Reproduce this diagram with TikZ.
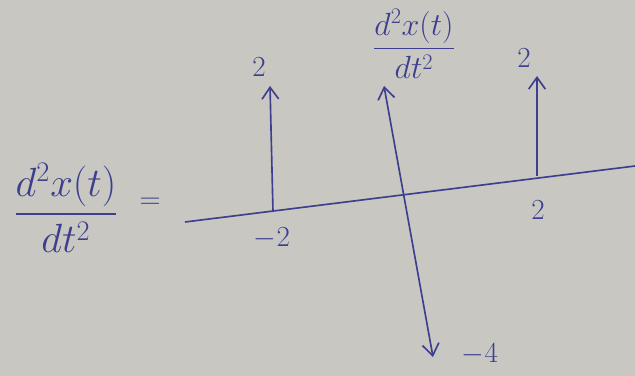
\documentclass[tikz,border=0pt]{standalone}
\usepackage{amsmath}
\usepackage{tikz}
\usetikzlibrary{arrows.meta}
\definecolor{paper}{HTML}{C8C7C2}
\definecolor{ink}{HTML}{3D3F8E}

\begin{document}
\begin{tikzpicture}[x=0.03cm, y=-0.03cm, >={Straight Barb[length=3.5mm,width=5mm]}, every node/.style={text=ink, font=\fontsize{26}{30}\selectfont}]
\fill[paper] (0,0) rectangle (635,376);
\useasboundingbox (0,0) rectangle (635,376);
\node[scale=1.4] (lhs) at (66,208) {$\dfrac{d^2x(t)}{dt^2}$};
\node (eq) at (150,203) {$=$};
\coordinate (ax0) at (185,222);
\coordinate (ax1) at (635,166);
\draw[line width=1.4pt,color=ink] (ax0)--(ax1);
\coordinate (m2) at (273,212);
\coordinate (m2top) at (270,86);
\draw[->,line width=1.4pt,color=ink] (m2)--(m2top);
\node (hm2) at (259,67) {$2$};
\node (tm2) at (272,238) {$-2$};
\coordinate (vtop) at (384,86);
\coordinate (vbot) at (433,357);
\draw[<->,line width=1.4pt,color=ink] (vtop)--(vbot);
\node[scale=1.1] (vlab) at (414,44) {$\dfrac{d^2x(t)}{dt^2}$};
\node (h0) at (480,354) {$-4$};
\coordinate (p2) at (537,176);
\coordinate (p2top) at (537,76);
\draw[->,line width=1.4pt,color=ink] (p2)--(p2top);
\node (hp2) at (524,58) {$2$};
\node (tp2) at (538,210) {$2$};
\end{tikzpicture}
\end{document}
